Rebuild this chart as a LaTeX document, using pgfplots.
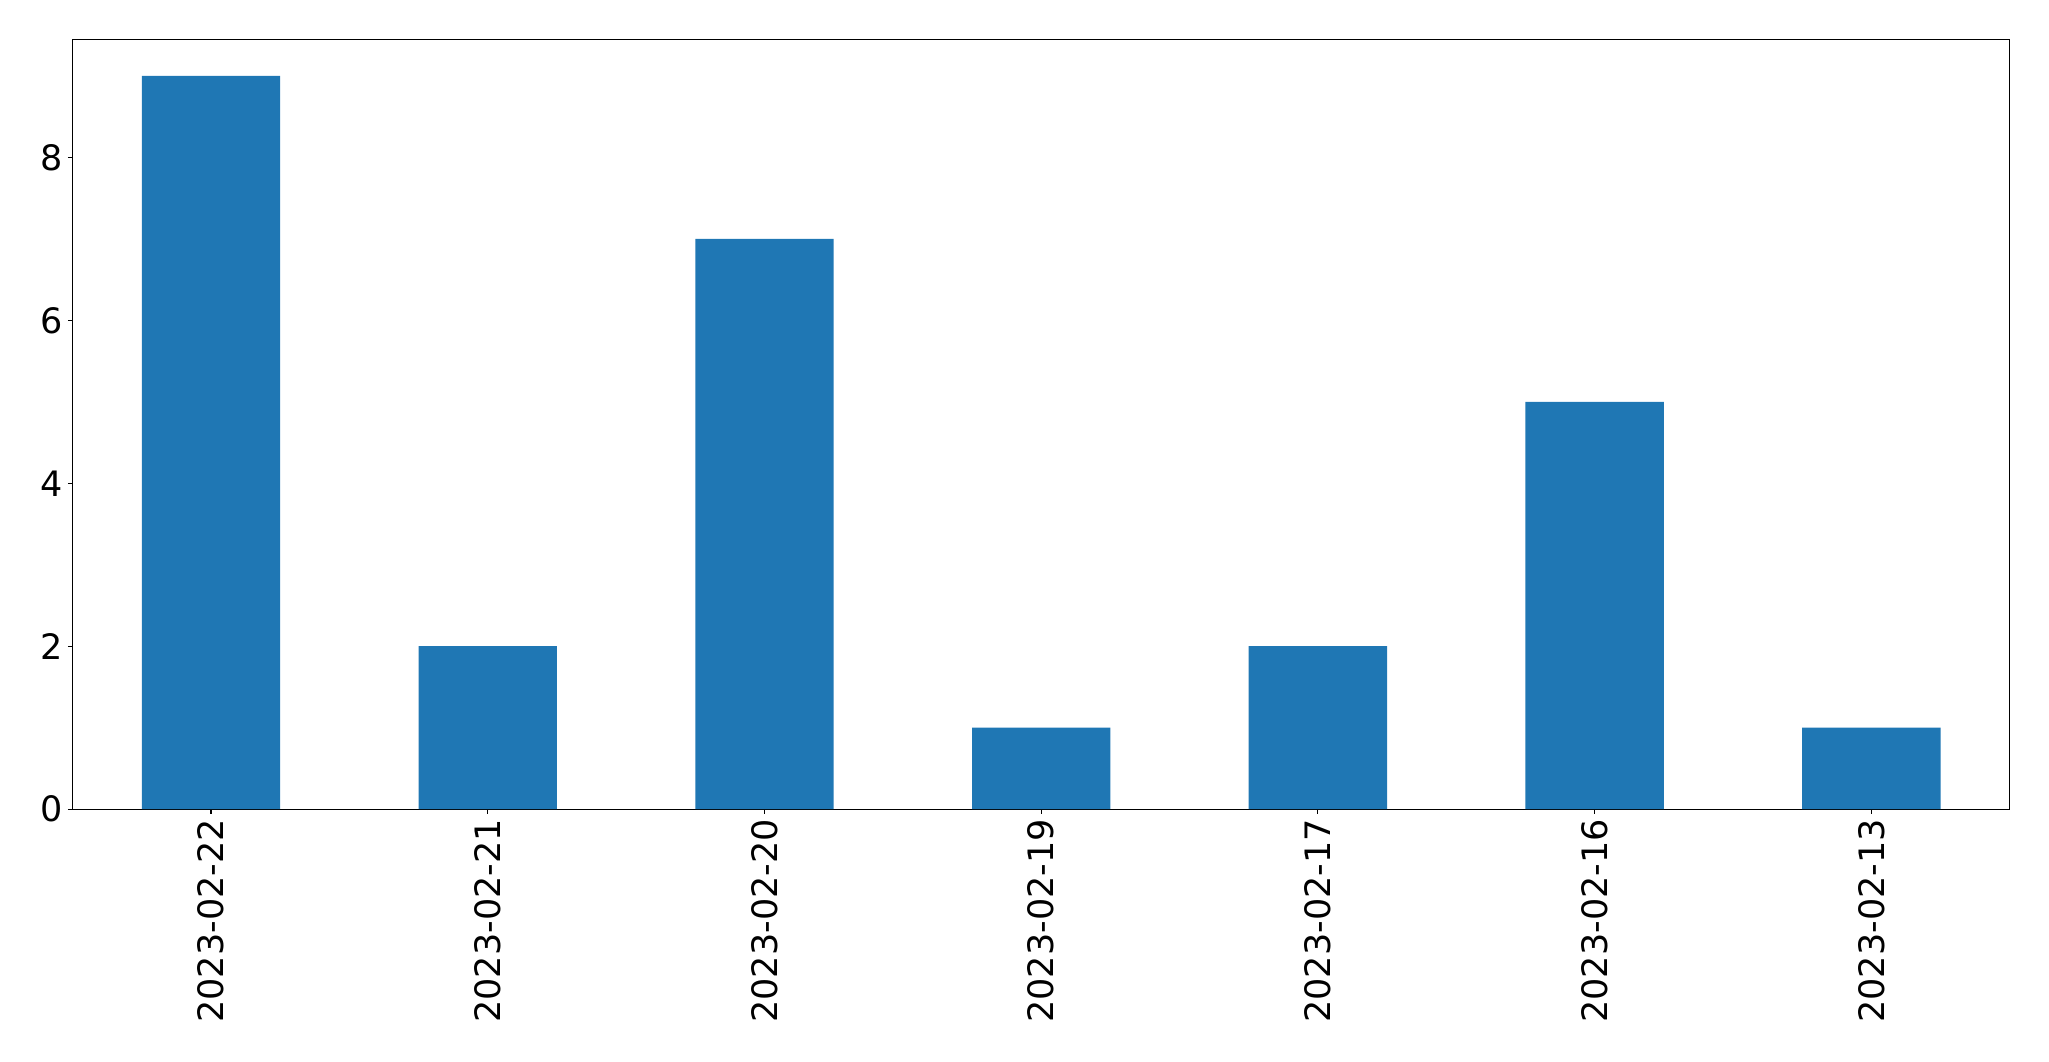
\documentclass[border=0pt]{standalone}
\usepackage{pgfplots}
\pgfplotsset{compat=1.18}
\usepackage{fontspec}
\setmainfont{DejaVu Sans}
\definecolor{tabblue}{HTML}{1F77B4}
\begin{document}
\begin{tikzpicture}
\begin{axis}[
  scale only axis,
  width=1394.6pt, height=554.2pt,
  xmin=-0.5, xmax=6.5, ymin=0, ymax=9.45,
  xtick={0,1,2,3,4,5,6},
  xticklabels={2023-02-22,2023-02-21,2023-02-20,2023-02-19,2023-02-17,2023-02-16,2023-02-13},
  ytick={0,2,4,6,8},
  tick align=outside,
  xtick pos=bottom, ytick pos=left,
  major tick length=3.5pt,
  every tick/.style={black, line width=0.8pt},
  axis line style={line width=0.8pt},
  /pgf/number format/assume math mode=true,
  tick label style={font=\fontsize{25.2}{30}\selectfont},
  xticklabel style={rotate=90, anchor=east, inner sep=0pt, xshift=0pt},
  yticklabel style={inner sep=0pt},
  xticklabel shift=3.5pt,
  yticklabel shift=3.5pt,
]
\addplot[ybar, bar width=0.5, fill=tabblue, draw=none] coordinates {
  (0,9) (1,2) (2,7) (3,1) (4,2) (5,5) (6,1)
};
\end{axis}
\pgfresetboundingbox
\path (current axis.south west) ++(-52.3pt,-181.4pt) coordinate (bl);
\path (current axis.north east) ++(28.3pt,28.3pt) coordinate (tr);
\path[use as bounding box] (bl) rectangle (tr);
\end{tikzpicture}
\end{document}
